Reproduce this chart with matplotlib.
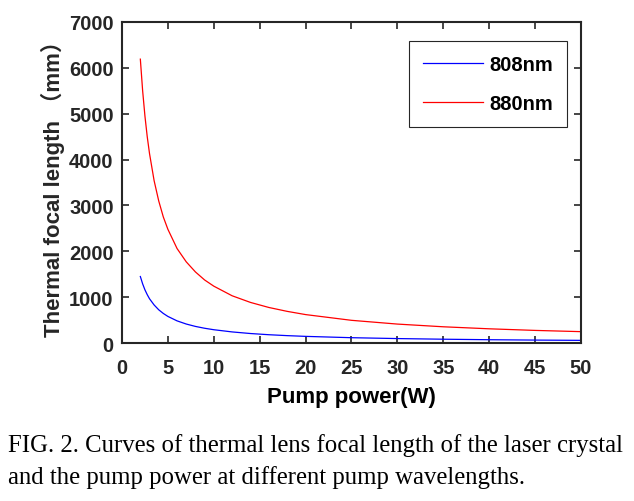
import numpy as np
from matplotlib import pyplot as plt

plt.rcParams['font.family'] = ['Liberation Sans', 'Noto Sans CJK SC', 'DejaVu Sans']

# pump power (W) and focal length (mm)
power = [2, 2.25, 2.5, 2.75, 3, 3.5, 4, 4.5, 5, 6, 7, 8, 9, 10, 12, 14, 16, 18, 20,
         25, 30, 35, 40, 45, 50]
f_808 = [1450, 1290, 1160, 1055, 965, 830, 725, 645, 580, 483, 414, 362, 322, 290,
         242, 207, 181, 161, 145, 116, 97, 83, 72, 64, 58]
f_880 = [6190, 5500, 4950, 4500, 4130, 3540, 3100, 2750, 2480, 2060, 1770, 1550,
         1375, 1240, 1030, 885, 775, 690, 620, 495, 413, 354, 310, 275, 248]

xticks = [0, 5, 10, 15, 20, 25, 30, 35, 40, 45, 50]
yticks = [0, 1000, 2000, 3000, 4000, 5000, 6000, 7000]

fig = plt.figure(figsize=(6.34, 5.02), dpi=100)
ax = fig.add_axes([0.1924, 0.3147, 0.724, 0.6395])

ax.plot(power, f_808, color='#0000ff', lw=0.9, label='808nm')
ax.plot(power, f_880, color='#ff0000', lw=0.9, label='880nm')

ax.set_xlim(0, 50)
ax.set_ylim(0, 7000)
ax.set_xticks(xticks)
ax.set_yticks(yticks)
ax.tick_params(direction='in', top=True, right=True, length=5, width=1.2,
               colors='#262626', labelsize=14.5)
ax.tick_params(axis='x', pad=11)
ax.tick_params(axis='y', pad=6)
for lab in ax.get_xticklabels() + ax.get_yticklabels():
    lab.set_fontweight('bold')
for s in ax.spines.values():
    s.set_linewidth(1.5)
    s.set_color('#262626')

ax.set_xlabel('Pump power(W)', fontsize=16, fontweight='bold', labelpad=6, color='black')
ax.set_ylabel('Thermal focal length （mm）', fontsize=16, fontweight='bold', labelpad=3,
              color='#262626')

leg = ax.legend(loc='upper right', bbox_to_anchor=(0.9695, 0.9408), borderaxespad=0,
                fancybox=False, edgecolor='#262626', framealpha=1, handlelength=3.0,
                handletextpad=0.3, labelspacing=1.0, borderpad=0.7,
                prop={'weight': 'bold', 'size': 14.5})
leg.get_frame().set_linewidth(0.8)

fig.text(0.0126, 0.1135, 'FIG. 2. Curves of thermal lens focal length of the laser crystal',
         family='Liberation Serif', fontsize=17.8, va='center')
fig.text(0.0126, 0.0478, 'and the pump power at different pump wavelengths.',
         family='Liberation Serif', fontsize=17.8, va='center')

fig.savefig('out.png', dpi=100)
